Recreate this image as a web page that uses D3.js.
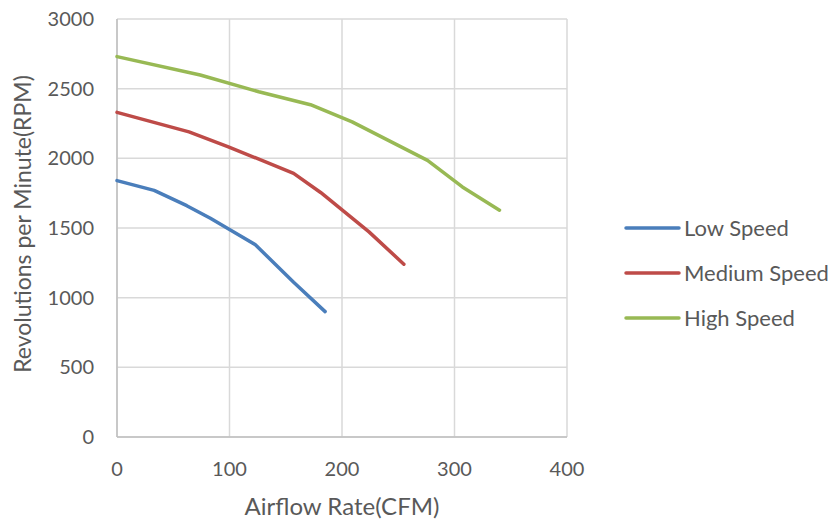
<!DOCTYPE html>
<html lang="en">
<head>
<meta charset="UTF-8"/>
<title>Revolutions per Minute vs Airflow Rate</title>
<script src="https://d3js.org/d3.v7.min.js"></script>
<style>
  body { margin: 0; background: #fff; }
  svg text { font-family: Lato, "Open Sans", sans-serif; fill: #595959; }
</style>
</head>
<body>
<script>
    //series data
    var seriesNames = ["Low Speed", "Medium Speed", "High Speed"];
    var seriesColors = ["#4a7ebb", "#be4b48", "#98b954"];

    var lowCFM = [0, 33, 62, 83, 100, 123, 157, 185];
    var lowRPM = [1840, 1770, 1660, 1570, 1490, 1380, 1110, 900];

    var medCFM = [0, 64, 99, 157, 181, 224, 255];
    var medRPM = [2330, 2190, 2083, 1892, 1755, 1472, 1240];

    var highCFM = [0, 74, 126, 172, 209, 276, 307, 340];
    var highRPM = [2730, 2598, 2478, 2385, 2262, 1985, 1795, 1628];

    var xTicks = [0, 100, 200, 300, 400];
    var yTicks = [0, 500, 1000, 1500, 2000, 2500, 3000];

    //dimensions
    var w = 835;
    var h = 523;
    var plotLeft = 117, plotRight = 567, plotTop = 19, plotBottom = 437;

    var xScale = d3.scaleLinear().domain([0, 400]).range([plotLeft, plotRight]);
    var yScale = d3.scaleLinear().domain([0, 3000]).range([plotBottom, plotTop]);

    var svg = d3.select("body")
        .append("svg")
        .attr("width", w)
        .attr("height", h);

    //gridlines
    svg.append("g")
        .selectAll("line")
        .data(yTicks)
        .enter()
        .append("line")
        .attr("x1", plotLeft)
        .attr("x2", plotRight)
        .attr("y1", function (d) { return yScale(d); })
        .attr("y2", function (d) { return yScale(d); })
        .attr("stroke", "#d9d9d9")
        .attr("stroke-width", 1.5);

    svg.append("g")
        .selectAll("line")
        .data(xTicks)
        .enter()
        .append("line")
        .attr("x1", function (d) { return xScale(d); })
        .attr("x2", function (d) { return xScale(d); })
        .attr("y1", plotTop)
        .attr("y2", plotBottom)
        .attr("stroke", "#d9d9d9")
        .attr("stroke-width", 1.5);

    //axis lines
    svg.append("line")
        .attr("x1", plotLeft).attr("x2", plotLeft)
        .attr("y1", plotTop).attr("y2", plotBottom)
        .attr("stroke", "#bfbfbf").attr("stroke-width", 1.5);
    svg.append("line")
        .attr("x1", plotLeft).attr("x2", plotRight)
        .attr("y1", plotBottom).attr("y2", plotBottom)
        .attr("stroke", "#bfbfbf").attr("stroke-width", 1.5);

    //tick labels
    svg.append("g")
        .selectAll("text")
        .data(yTicks)
        .enter()
        .append("text")
        .text(function (d) { return d; })
        .attr("x", plotLeft - 23)
        .attr("y", function (d) { return yScale(d) + 7; })
        .attr("text-anchor", "end")
        .attr("font-size", "20px");

    svg.append("g")
        .selectAll("text")
        .data(xTicks)
        .enter()
        .append("text")
        .text(function (d) { return d; })
        .attr("x", function (d) { return xScale(d); })
        .attr("y", 476)
        .attr("text-anchor", "middle")
        .attr("font-size", "20px");

    //axis titles
    svg.append("text")
        .text("Airflow Rate(CFM)")
        .attr("x", xScale(200))
        .attr("y", 515)
        .attr("text-anchor", "middle")
        .attr("font-size", "24px");

    svg.append("text")
        .text("Revolutions per Minute(RPM)")
        .attr("transform", "translate(31,224) rotate(-90)")
        .attr("text-anchor", "middle")
        .attr("font-size", "23px");

    //lines
    var series = [
        d3.zip(lowCFM, lowRPM),
        d3.zip(medCFM, medRPM),
        d3.zip(highCFM, highRPM)
    ];

    var line = d3.line()
        .x(function (d) { return xScale(d[0]); })
        .y(function (d) { return yScale(d[1]); });

    svg.append("g")
        .selectAll("path")
        .data(series)
        .enter()
        .append("path")
        .attr("d", line)
        .attr("fill", "none")
        .attr("stroke", function (d, i) { return seriesColors[i]; })
        .attr("stroke-width", 3.5)
        .attr("stroke-linejoin", "round")
        .attr("stroke-linecap", "round");

    //legend
    var legend = svg.append("g")
        .selectAll("g")
        .data(seriesNames)
        .enter()
        .append("g")
        .attr("transform", function (d, i) { return "translate(626," + (228 + i * 45) + ")"; });

    legend.append("line")
        .attr("x1", 0).attr("x2", 53)
        .attr("y1", 0).attr("y2", 0)
        .attr("stroke", function (d, i) { return seriesColors[i]; })
        .attr("stroke-width", 3.5)
        .attr("stroke-linecap", "round");

    legend.append("text")
        .text(function (d) { return d; })
        .attr("x", 58)
        .attr("y", 8)
        .attr("font-size", "22px");
</script>
</body>
</html>
